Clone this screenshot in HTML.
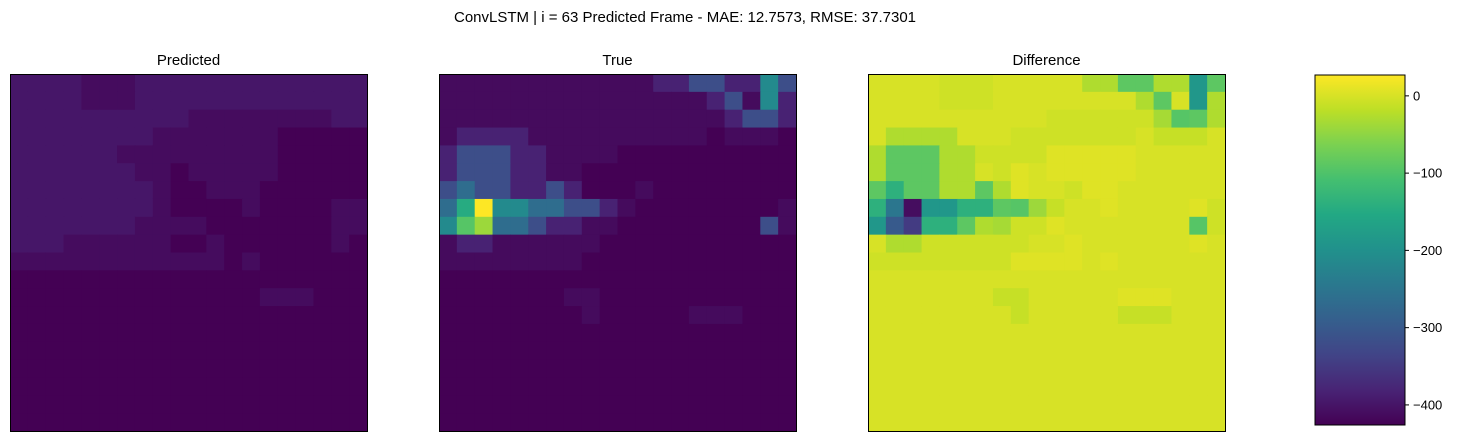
<!DOCTYPE html>
<html><head><meta charset="utf-8"><style>
body{margin:0;background:#fff;width:1462px;height:441px;overflow:hidden;font-family:"Liberation Sans","DejaVu Sans",sans-serif}
svg text{font-family:"Liberation Sans","DejaVu Sans",sans-serif}
</style></head><body>
<svg id="c" width="1462" height="441">
<defs><linearGradient id="vg" x1="0" y1="1" x2="0" y2="0"></linearGradient></defs>
<text x="685" y="22" font-size="15" text-anchor="middle">ConvLSTM | i = 63 Predicted Frame - MAE: 12.7573, RMSE: 37.7301</text>
</svg>
<script>
const predRows=["22221112222222222222","22221112222222222222","22222222221111111122","22222222111111100000","22222211111111100000","22222221101111100000","22222222100111000000","22222222100001000011","22222221111000000011","22211111100100000010","11111111111101000000","00000000000000000000","00000000000000111000","00000000000000000000","00000000000000000000","00000000000000000000","00000000000000000000","00000000000000000000","00000000000000000000","00000000000000000000"];
const trueRows=["11111111111122332253","11111111111111123152","11111111111111112332","12222111111111101110","23332211110000000000","23332211000000000000","34332232000100000000","46955443321000000001","57844322110000000031","12211111100000000000","11111111000000000000","00000000000000000000","00000001100000000000","00000000100000111000","00000000000000000000","00000000000000000000","00000000000000000000","00000000000000000000","00000000000000000000","00000000000000000000"];
const predLevels=[0,6,12,18];
const trueLevels=[0,12,40,100,150,200,260,310,360,423];
const cbTicks=[0,-100,-200,-300,-400];
const diffMin=-426, diffMax=27;
const V=[[68,1,84],[72,36,117],[65,68,135],[53,95,141],[42,120,142],[33,145,140],[34,168,132],[68,191,112],[122,209,81],[189,223,38],[253,231,37]];
function vir(t){t=Math.max(0,Math.min(1,t));const p=t*10,i=Math.min(9,Math.floor(p)),f=p-i;const a=V[i],b=V[i+1];return `rgb(${a.map((v,k)=>Math.round(v+(b[k]-v)*f)).join(',')})`;}
const svg=document.getElementById('c');const NS='http://www.w3.org/2000/svg';
function el(t,a){const e=document.createElementNS(NS,t);for(const k in a)e.setAttribute(k,a[k]);svg.appendChild(e);return e;}
const N=20, size=357, topY=74;
function panel(x0,title,val,lo,hi,name){
  const cs=size/N;
  const g=el('g',{});
  
  
  for(let r=0;r<N;r++)for(let c=0;c<N;c++){
    const rc=document.createElementNS(NS,'rect');
    rc.setAttribute('x',x0+c*cs);rc.setAttribute('y',topY+r*cs);rc.setAttribute('width',cs+0.6);rc.setAttribute('height',cs+0.6);
    rc.setAttribute('fill',vir((val(r,c)-lo)/(hi-lo)));
    
    
    g.appendChild(rc);
  }
  const b=el('rect',{x:x0+0.5,y:topY+0.5,width:size,height:size,fill:'none',stroke:'#000','stroke-width':1});
  
  
  const t=el('text',{x:x0+size/2,y:65,'font-size':15,'text-anchor':'middle'});t.textContent=title;
  
  
}
const P=(r,c)=>predLevels[+predRows[r][c]], T=(r,c)=>trueLevels[+trueRows[r][c]];
panel(10,'Predicted',P,0,200,'predicted');
panel(439,'True',T,0,423,'true');
panel(868,'Difference',(r,c)=>P(r,c)-T(r,c),diffMin,diffMax,'difference');
const gr=document.getElementById('vg');
for(let i=0;i<=10;i++){const s=document.createElementNS(NS,'stop');s.setAttribute('offset',i/10);s.setAttribute('stop-color',vir(i/10));gr.appendChild(s);}
const cbx=1315,cbw=90,cbt=75,cbb=425;
const cb=el('rect',{x:cbx,y:cbt,width:cbw,height:cbb-cbt,fill:'url(#vg)',stroke:'#000','stroke-width':1});


const yc=v=>cbb-(v-diffMin)/(diffMax-diffMin)*(cbb-cbt);
cbTicks.forEach(v=>{
  const y=yc(v);
  const l=el('line',{x1:cbx+cbw,x2:cbx+cbw+4,y1:y,y2:y,stroke:'#000'});
  
  
  const t=el('text',{x:cbx+cbw+8,y:y+4.5,'font-size':13});t.textContent=v===0?'0':'\u2212'+Math.abs(v);
  
  
});
</script>
</body></html>
